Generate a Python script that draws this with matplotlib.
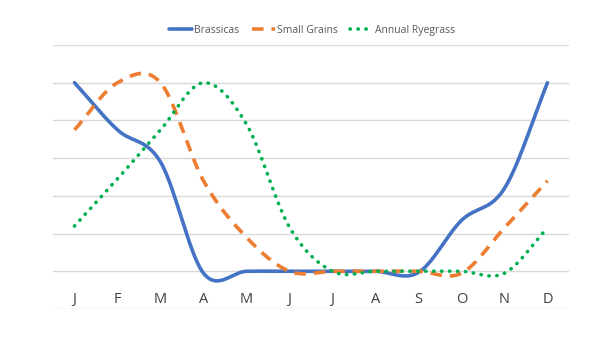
import numpy as np
import matplotlib
matplotlib.use("Agg")
import matplotlib.pyplot as plt

months = ["J", "F", "M", "A", "M", "J", "J", "A", "S", "O", "N", "D"]
brassicas = [5.0, 3.75, 2.9, -0.05, 0.0, 0.0, 0.0, 0.0, -0.03, 1.35, 2.2, 5.0]
small_grains = [3.75, 5.0, 5.0, 2.4, 0.9, 0.0, 0.0, 0.0, 0.0, -0.05, 1.15, 2.4]
ryegrass = [1.2, 2.45, 3.75, 5.0, 3.9, 1.17, 0.0, 0.0, 0.0, 0.0, -0.05, 1.15]


def smooth(y, n=30):
    y = np.asarray(y, float)
    x = np.arange(len(y), dtype=float)
    yp = np.concatenate([[2 * y[0] - y[1]], y, [2 * y[-1] - y[-2]]])
    xs, ys = [], []
    for i in range(len(y) - 1):
        p0, p1, p2, p3 = yp[i], yp[i + 1], yp[i + 2], yp[i + 3]
        m1 = (p2 - p0) / 2
        m2 = (p3 - p1) / 2
        t = np.linspace(0, 1, n, endpoint=(i == len(y) - 2))
        h00 = 2 * t**3 - 3 * t**2 + 1
        h10 = t**3 - 2 * t**2 + t
        h01 = -2 * t**3 + 3 * t**2
        h11 = t**3 - t**2
        xs.append(x[i] + t)
        ys.append(h00 * p1 + h10 * m1 + h01 * p2 + h11 * m2)
    return np.concatenate(xs), np.concatenate(ys)


plt.rcParams['font.family'] = ['Open Sans', 'DejaVu Sans']
fig = plt.figure(figsize=(6, 3.38), dpi=100)
ax = fig.add_axes([0.0883, 0.0858, 0.86, 0.781])

for y, c, ls, lab in [
    (brassicas, "#4472C4", "-", "Brassicas"),
    (small_grains, "#ED7D31", (0, (3.2, 2.2)), "Small Grains"),
    (ryegrass, "#00B050", (0, (0.1, 2.1)), "Annual Ryegrass"),
]:
    xs, ys = smooth(y)
    ax.plot(xs, ys, color=c, lw=2.6, ls=ls, label=lab,
            solid_capstyle="round", dash_capstyle="round" if lab == "Annual Ryegrass" else "butt")

ax.set_xlim(-0.5, 11.5)
ax.set_ylim(-1, 6)
ax.set_yticks(range(-1, 7))
ax.yaxis.grid(True, color="#D9D9D9", lw=1)
ax.set_axisbelow(True)
ax.tick_params(axis="y", left=False, labelleft=False)
ax.set_xticks(range(12))
ax.set_xticklabels(months, fontsize=10.5, color="#404040")
ax.tick_params(axis="x", bottom=False, pad=-16)
for s in ax.spines.values():
    s.set_visible(False)

fig.legend(loc="upper center", bbox_to_anchor=(0.52, 0.955), ncol=3, frameon=False,
           fontsize=7.5, handlelength=2.2, columnspacing=1.2, handletextpad=0.2,
           labelcolor="#595959")
fig.savefig("out.png", dpi=100)
